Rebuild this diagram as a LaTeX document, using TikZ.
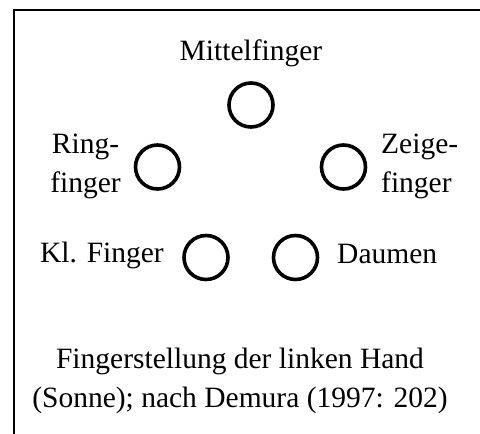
\documentclass[tikz,border=0pt]{standalone}
\usepackage{fontspec}
\setmainfont{Liberation Serif}
\begin{document}
\begin{tikzpicture}[x=1pt,y=-1pt,
  finger/.style={circle,draw,line width=3.6pt,minimum size=44pt,inner sep=0pt},
  lbl/.style={inner sep=0pt,font=\fontsize{29.5}{39}\selectfont},
  frameline/.style={line width=2pt}]
\useasboundingbox (0,0) rectangle (480,434);
\begin{scope}
\clip (0,0) rectangle (480,434);
\draw[frameline] (14,440) -- (14,10) -- (490,10);
\end{scope}
% circles
\node[finger] (mittel) at (251,105) {};
\node[finger] (ring) at (157.5,167) {};
\node[finger] (zeige) at (343.5,167) {};
\node[finger] (klein) at (206,257.5) {};
\node[finger] (daumen) at (295.5,257.5) {};
% labels
\node[lbl,anchor=base] (tmittel) at (251,60) {Mittelfinger};
\node[lbl,anchor=east,align=center] (tring) at (121,166) {Ring-\\finger};
\node[lbl,anchor=west,align=left] (tzeige) at (381,166) {Zeige-\\finger};
\node[lbl,anchor=base east] (tklein) at (164,262) {Kl. Finger};
\node[lbl,anchor=base west] (tdaumen) at (337,263) {Daumen};
\node[lbl,anchor=center,align=center] (caption) at (240,381) {Fingerstellung der linken Hand\\(Sonne); nach Demura (1997: 202)};
\end{tikzpicture}
\end{document}
